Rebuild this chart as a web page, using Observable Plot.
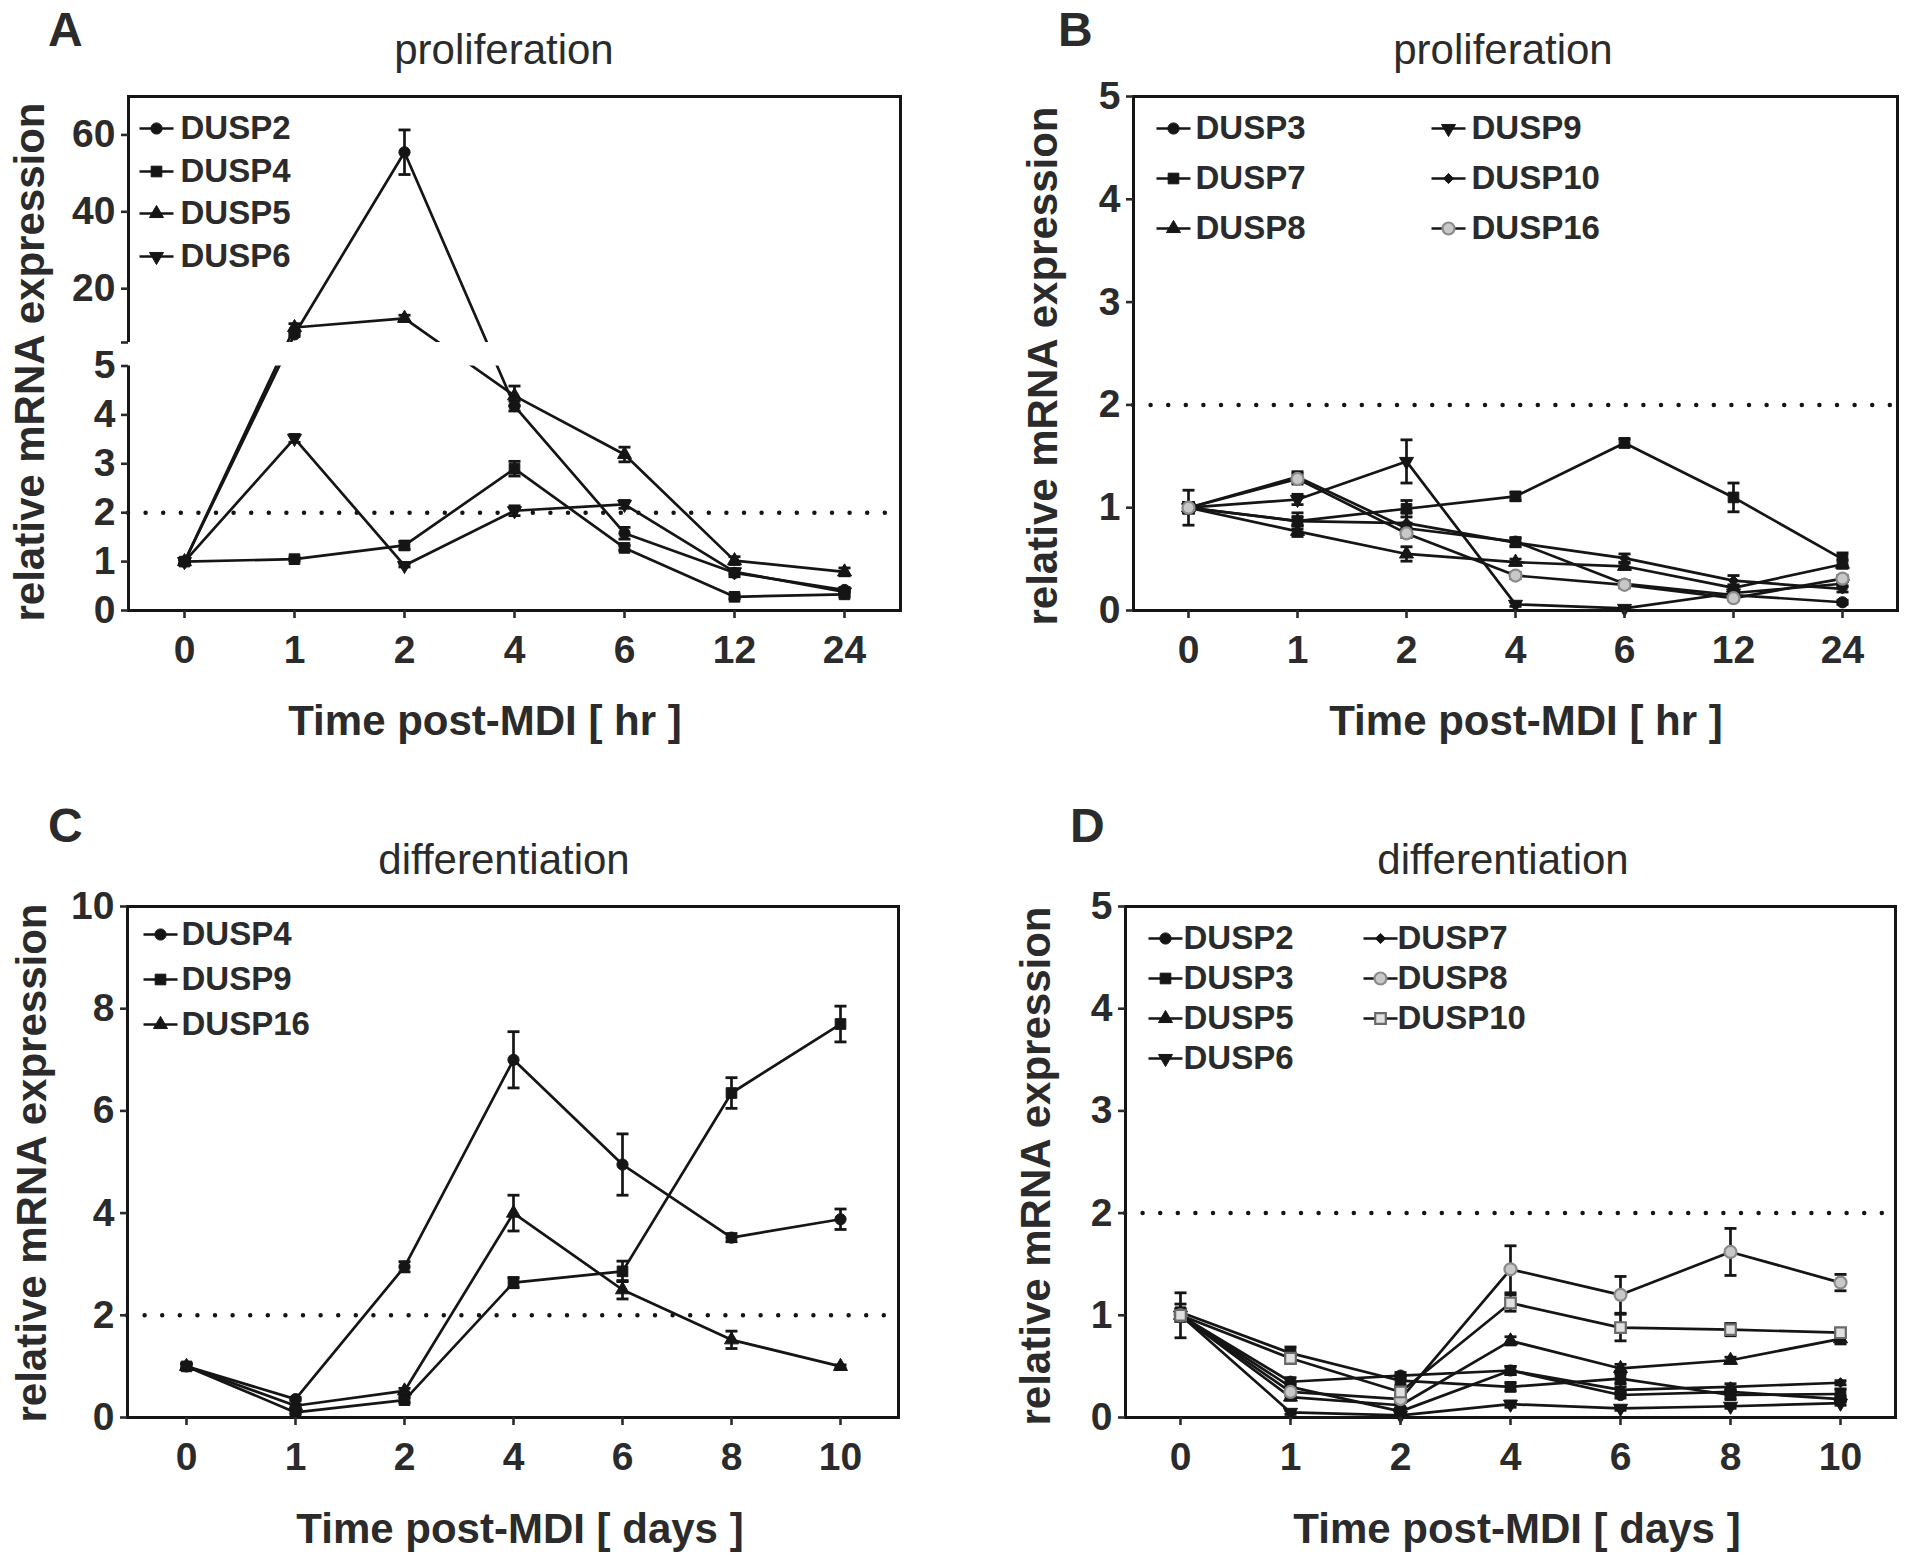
<!DOCTYPE html>
<html><head><meta charset="utf-8">
<script src="https://cdn.jsdelivr.net/npm/d3@7"></script>
<script src="https://cdn.jsdelivr.net/npm/@observablehq/plot@0.6"></script>
<style>
html,body{margin:0;padding:0;background:#fff;}
#page{position:relative;width:1920px;height:1556px;overflow:hidden;background:#fff;}
.panel{position:absolute;}
.panel svg{overflow:visible;}
#overlay{position:absolute;left:0;top:0;pointer-events:none;}
</style></head><body><div id="page"></div>
<script>
// ---------- categories ----------
const hours = ["0","1","2","4","6","12","24"];
const days  = ["0","1","2","4","6","8","10"];

// ---------- panel A (proliferation) ----------
const A_genes = ["DUSP2","DUSP4","DUSP5","DUSP6"];
const A_DUSP2 = [1.00, 8.1, 55.5, 4.18, 1.58, 0.77, 0.42];
const A_DUSP2_err = [0.05, 0.5, 5.8, 0.10, 0.12, 0.08, 0.05];
const A_DUSP4 = [1.00, 1.05, 1.33, 2.90, 1.28, 0.28, 0.33];
const A_DUSP4_err = [0.05, 0.03, 0.08, 0.15, 0.05, 0.04, 0.05];
const A_DUSP5 = [1.00, 9.9, 12.3, 4.39, 3.19, 1.02, 0.79];
const A_DUSP5_err = [0.05, 1.0, 0.8, 0.20, 0.15, 0.08, 0.08];
const A_DUSP6 = [1.00, 3.52, 0.92, 2.04, 2.17, 0.79, 0.38];
const A_DUSP6_err = [0.05, 0.08, 0.03, 0.10, 0.08, 0.05, 0.05];
const A_yTicks = [0, 1, 2, 3, 4, 5, 6, 20, 40, 60];

// ---------- panel B (proliferation) ----------
const B_genes = ["DUSP3","DUSP7","DUSP8","DUSP9","DUSP10","DUSP16"];
const B_DUSP3 = [1.00, 1.30, 0.80, 0.67, 0.26, 0.15, 0.08];
const B_DUSP3_err = [0.05, 0.05, 0.05, 0.04, 0.03, 0.02, 0.02];
const B_DUSP7 = [1.00, 0.87, 0.99, 1.11, 1.63, 1.10, 0.50];
const B_DUSP7_err = [0.17, 0.08, 0.08, 0.04, 0.04, 0.14, 0.06];
const B_DUSP8 = [1.00, 0.77, 0.55, 0.47, 0.43, 0.22, 0.45];
const B_DUSP8_err = [0.05, 0.05, 0.07, 0.03, 0.03, 0.03, 0.04];
const B_DUSP9 = [1.00, 1.08, 1.45, 0.06, 0.02, 0.17, 0.26];
const B_DUSP9_err = [0.05, 0.05, 0.21, 0.02, 0.01, 0.03, 0.03];
const B_DUSP10 = [1.00, 0.87, 0.85, 0.66, 0.51, 0.29, 0.21];
const B_DUSP10_err = [0.05, 0.04, 0.10, 0.04, 0.04, 0.05, 0.03];
const B_DUSP16 = [1.00, 1.28, 0.75, 0.34, 0.25, 0.12, 0.31];
const B_DUSP16_err = [0.05, 0.05, 0.04, 0.03, 0.03, 0.02, 0.03];
const B_yTicks = [0, 1, 2, 3, 4, 5];

// ---------- panel C (differentiation) ----------
const C_genes = ["DUSP4","DUSP9","DUSP16"];
const C_DUSP4 = [1.00, 0.36, 2.95, 7.00, 4.95, 3.52, 3.88];
const C_DUSP4_err = [0.05, 0.03, 0.10, 0.55, 0.60, 0.08, 0.20];
const C_DUSP9 = [1.00, 0.10, 0.34, 2.64, 2.86, 6.35, 7.70];
const C_DUSP9_err = [0.05, 0.03, 0.05, 0.10, 0.20, 0.30, 0.35];
const C_DUSP16 = [1.00, 0.23, 0.52, 4.00, 2.50, 1.52, 1.00];
const C_DUSP16_err = [0.05, 0.03, 0.05, 0.35, 0.18, 0.17, 0.03];
const C_yTicks = [0, 2, 4, 6, 8, 10];

// ---------- panel D (differentiation) ----------
const D_genes = ["DUSP2","DUSP3","DUSP5","DUSP6","DUSP7","DUSP8","DUSP10"];
const D_DUSP2 = [1.00, 0.35, 0.41, 0.46, 0.22, 0.25, 0.18];
const D_DUSP2_err = [0.05, 0.04, 0.03, 0.04, 0.03, 0.03, 0.03];
const D_DUSP3 = [1.03, 0.63, 0.36, 0.30, 0.38, 0.22, 0.23];
const D_DUSP3_err = [0.08, 0.06, 0.05, 0.04, 0.05, 0.04, 0.05];
const D_DUSP5 = [1.00, 0.20, 0.12, 0.75, 0.48, 0.56, 0.77];
const D_DUSP5_err = [0.05, 0.03, 0.03, 0.04, 0.04, 0.03, 0.05];
const D_DUSP6 = [1.00, 0.05, 0.02, 0.13, 0.09, 0.11, 0.14];
const D_DUSP6_err = [0.05, 0.02, 0.02, 0.03, 0.02, 0.02, 0.02];
const D_DUSP7 = [1.00, 0.30, 0.06, 0.46, 0.27, 0.30, 0.34];
const D_DUSP7_err = [0.05, 0.03, 0.02, 0.04, 0.03, 0.03, 0.02];
const D_DUSP8 = [1.00, 0.25, 0.18, 1.45, 1.20, 1.62, 1.32];
const D_DUSP8_err = [0.22, 0.04, 0.03, 0.23, 0.18, 0.23, 0.08];
const D_DUSP10 = [1.00, 0.58, 0.25, 1.12, 0.88, 0.86, 0.83];
const D_DUSP10_err = [0.06, 0.05, 0.04, 0.08, 0.13, 0.06, 0.04];
const D_yTicks = [0, 1, 2, 3, 4, 5];

const threshold = 2;

// ---------- symbols ----------
const triDown = {draw(ctx, size) {
  const y = -Math.sqrt(size / (Math.sqrt(3) * 3));
  ctx.moveTo(0, -2 * y); ctx.lineTo(-Math.sqrt(3) * y, y); ctx.lineTo(Math.sqrt(3) * y, y); ctx.closePath();
}};
const hline = {draw(ctx, size) {
  const w = Math.sqrt(size / Math.PI);
  ctx.moveTo(-w, 0); ctx.lineTo(w, 0);
}};
const INK = "#151515";
const TXT = "#2b2b2b";
const FONT = "'Liberation Sans', Arial, Helvetica, sans-serif";
const black = (symbol, r = 5.6) => ({symbol, r, fill: INK, stroke: INK, sw: 1});
const greyCircle = {symbol: "circle", r: 6, fill: "#c8c8c8", stroke: "#8a8a8a", sw: 2.2};
const greySquare = {symbol: "square", r: 6, fill: "#e0e0e0", stroke: "#6a6a6a", sw: 2.2};

function series(gene, values, err, style) { return {gene, values, err, style}; }

const panelA = [
  series("DUSP2", A_DUSP2, A_DUSP2_err, black("circle")),
  series("DUSP4", A_DUSP4, A_DUSP4_err, black("square", 6)),
  series("DUSP5", A_DUSP5, A_DUSP5_err, black("triangle", 5.2)),
  series("DUSP6", A_DUSP6, A_DUSP6_err, black(triDown, 5.2))
];
const panelB = [
  series("DUSP3", B_DUSP3, B_DUSP3_err, black("circle")),
  series("DUSP7", B_DUSP7, B_DUSP7_err, black("square", 6)),
  series("DUSP8", B_DUSP8, B_DUSP8_err, black("triangle", 5.2)),
  series("DUSP9", B_DUSP9, B_DUSP9_err, black(triDown, 5.2)),
  series("DUSP10", B_DUSP10, B_DUSP10_err, black("diamond2", 4.6)),
  series("DUSP16", B_DUSP16, B_DUSP16_err, greyCircle)
];
const panelC = [
  series("DUSP4", C_DUSP4, C_DUSP4_err, black("circle")),
  series("DUSP9", C_DUSP9, C_DUSP9_err, black("square", 6)),
  series("DUSP16", C_DUSP16, C_DUSP16_err, black("triangle", 5.2))
];
const panelD = [
  series("DUSP2", D_DUSP2, D_DUSP2_err, black("circle")),
  series("DUSP3", D_DUSP3, D_DUSP3_err, black("square", 6)),
  series("DUSP5", D_DUSP5, D_DUSP5_err, black("triangle", 5.2)),
  series("DUSP6", D_DUSP6, D_DUSP6_err, black(triDown, 5.2)),
  series("DUSP7", D_DUSP7, D_DUSP7_err, black("diamond2", 4.6)),
  series("DUSP8", D_DUSP8, D_DUSP8_err, greyCircle),
  series("DUSP10", D_DUSP10, D_DUSP10_err, greySquare)
];

function dataMarks(list, cats) {
  const rowsOf = s => cats.map((t, i) => ({t, v: s.values[i], e: s.err[i], gene: s.gene}));
  const lines = [], bars = [], dots = [];
  for (const s of list) {
    const rows = rowsOf(s);
    lines.push(Plot.line(rows, {x: "t", y: "v", stroke: INK, strokeWidth: 2.7}));
    bars.push(Plot.ruleX(rows, {x: "t", y1: d => d.v - d.e, y2: d => d.v + d.e, stroke: INK, strokeWidth: 2.7}));
    bars.push(Plot.dot(rows, {x: "t", y: d => d.v + d.e, symbol: hline, r: 6, stroke: INK, strokeWidth: 2.8}));
    bars.push(Plot.dot(rows, {x: "t", y: d => d.v - d.e, symbol: hline, r: 6, stroke: INK, strokeWidth: 2.8}));
    dots.push(Plot.dot(rows, {x: "t", y: "v", symbol: s.style.symbol, r: s.style.r, fill: s.style.fill, stroke: s.style.stroke, strokeWidth: s.style.sw}));
  }
  return [...lines, ...bars, ...dots];
}

function legendMarks(list, slots) {
  const out = [];
  list.forEach((s, i) => {
    const [sx, tx, ry] = slots[i];
    out.push(Plot.dot([0], {frameAnchor: "top-left", dx: sx, dy: ry, symbol: hline, r: 17, stroke: INK, strokeWidth: 2.7}));
    out.push(Plot.dot([0], {frameAnchor: "top-left", dx: sx, dy: ry, symbol: s.style.symbol, r: s.style.r, fill: s.style.fill, stroke: s.style.stroke, strokeWidth: s.style.sw}));
    out.push(Plot.text([s.gene], {frameAnchor: "top-left", dx: tx, dy: ry, text: d => d, textAnchor: "start", lineAnchor: "middle", fontSize: 33, fontWeight: "bold", fill: TXT}));
  });
  return out;
}

function axes(yTicks, fmt) {
  return [
    Plot.axisY({ticks: yTicks, tickFormat: fmt || (d => d), tickSize: 7, tickPadding: 6, label: null, strokeWidth: 2.6}),
    Plot.axisX({tickSize: 8, tickPadding: 17, label: null, strokeWidth: 2.6})
  ];
}
const dotted = () => Plot.ruleY([threshold], {stroke: INK, strokeWidth: 4.5, strokeDasharray: "0,17.6", strokeLinecap: "round"});
const style = {fontFamily: FONT, fontSize: "39px", fontWeight: "bold", color: TXT, background: "transparent", overflow: "visible"};

function place(svg, left, top) {
  const d = document.createElement("div");
  d.className = "panel"; d.style.left = left + "px"; d.style.top = top + "px";
  d.appendChild(svg); document.getElementById("page").appendChild(d);
}

// Panel A with broken axis (piecewise scale)
const plotA = Plot.plot({
  width: 960, height: 750, marginLeft: 128, marginRight: 60, marginTop: 96, marginBottom: 140,
  x: {type: "point", domain: hours, padding: 0.509},
  y: {type: "linear", domain: [0, 5, 6, 70], range: [610, 365.5, 342, 96]},
  style,
  marks: [
    dotted(),
    ...dataMarks(panelA, hours),
    Plot.frame({stroke: INK, strokeWidth: 3}),
    Plot.rect([0], {y1: 5, y2: 6, fill: "white", insetLeft: -6, insetRight: 2}),
    ...axes(A_yTicks, d => (d === 6 ? "" : d)),
    ...legendMarks(panelA, [[28, 52, 32], [28, 52, 75], [28, 52, 117], [28, 52, 160]])
  ]
});
place(plotA, 0, 0);

const plotB = Plot.plot({
  width: 960, height: 750, marginLeft: 173, marginRight: 23, marginTop: 96, marginBottom: 140,
  x: {type: "point", domain: hours, padding: 0.473},
  y: {domain: [0, 5]},
  style,
  marks: [
    dotted(),
    ...dataMarks(panelB, hours),
    Plot.frame({stroke: INK, strokeWidth: 3}),
    ...axes(B_yTicks),
    ...legendMarks(panelB, [[40, 62, 32], [40, 62, 82], [40, 62, 132], [315, 338, 32], [315, 338, 82], [315, 338, 132]])
  ]
});
place(plotB, 960, 0);

const plotC = Plot.plot({
  width: 960, height: 776, marginLeft: 127, marginRight: 62, marginTop: 126, marginBottom: 139,
  x: {type: "point", domain: days, padding: 0.505},
  y: {domain: [0, 10]},
  style,
  marks: [
    dotted(),
    ...dataMarks(panelC, days),
    Plot.frame({stroke: INK, strokeWidth: 3}),
    ...axes(C_yTicks),
    ...legendMarks(panelC, [[33, 54, 28], [33, 54, 73], [33, 54, 118]])
  ]
});
place(plotC, 0, 780);

const plotD = Plot.plot({
  width: 960, height: 776, marginLeft: 165, marginRight: 25, marginTop: 126, marginBottom: 139,
  x: {type: "point", domain: days, padding: 0.5},
  y: {domain: [0, 5]},
  style,
  marks: [
    dotted(),
    ...dataMarks(panelD, days),
    Plot.frame({stroke: INK, strokeWidth: 3}),
    ...axes(D_yTicks),
    ...legendMarks(panelD, [[40, 58, 32], [40, 58, 72], [40, 58, 112], [40, 58, 152], [255, 272, 32], [255, 272, 72], [255, 272, 112]])
  ]
});
place(plotD, 960, 780);

// ---------- text annotations ----------
const letters = [["A", 48, 46], ["B", 1058, 46], ["C", 48, 842], ["D", 1070, 842]];
const titles = [["proliferation", 504, 64], ["proliferation", 1503, 64], ["differentiation", 504, 874], ["differentiation", 1503, 874]];
const yLabel = "relative mRNA expression";
const yLabelPos = [[44, 362], [1057, 366], [46, 1163], [1050, 1166]];
const xLabels = [["Time post-MDI [ hr ]", 485, 735], ["Time post-MDI [ hr ]", 1526, 735], ["Time post-MDI [ days ]", 520, 1543], ["Time post-MDI [ days ]", 1517, 1543]];

const ov = d3.select("#page").append("svg").attr("id", "overlay").attr("width", 1920).attr("height", 1556)
  .style("font-family", FONT).style("fill", TXT);
ov.selectAll("text.letter").data(letters).join("text").attr("class", "letter")
  .attr("x", d => d[1]).attr("y", d => d[2]).attr("font-size", 48).attr("font-weight", "bold").text(d => d[0]);
ov.selectAll("text.title").data(titles).join("text").attr("class", "title")
  .attr("x", d => d[1]).attr("y", d => d[2]).attr("text-anchor", "middle").attr("font-size", 42).attr("font-weight", "normal").text(d => d[0]);
ov.selectAll("text.ylab").data(yLabelPos).join("text").attr("class", "ylab")
  .attr("transform", d => `translate(${d[0]},${d[1]}) rotate(-90)`).attr("text-anchor", "middle")
  .attr("font-size", 42).attr("font-weight", "bold").text(yLabel);
ov.selectAll("text.xlab").data(xLabels).join("text").attr("class", "xlab")
  .attr("x", d => d[1]).attr("y", d => d[2]).attr("text-anchor", "middle").attr("font-size", 42).attr("font-weight", "bold").text(d => d[0]);
</script>
</body></html>
